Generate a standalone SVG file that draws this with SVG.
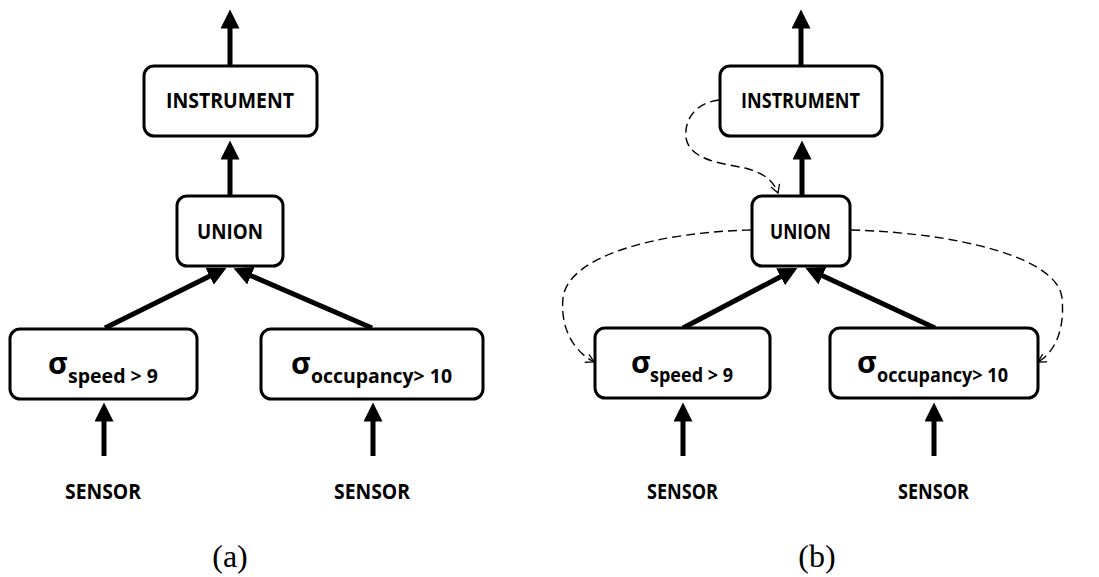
<svg xmlns="http://www.w3.org/2000/svg" width="1099" height="577" viewBox="0 0 1099 577">
<style>
.box{fill:#fff;stroke:#000;stroke-width:3}
.lbl{font-family:"Open Sans","Liberation Sans",sans-serif;font-weight:bold;font-size:22px;fill:#000}
.sig{font-family:"Open Sans","Liberation Sans",sans-serif;font-weight:bold;font-size:30px;fill:#000}
.sub{font-family:"Open Sans","Liberation Sans",sans-serif;font-weight:bold;font-size:20px;fill:#000}
.cap{font-family:"Liberation Serif","Times New Roman",serif;font-size:32px;fill:#000;text-anchor:middle}
.thick{stroke:#000;stroke-width:5;fill:none;marker-end:url(#head)}
.dash{stroke:#000;stroke-width:1.4;fill:none;stroke-dasharray:9,5;marker-end:url(#open)}
</style>
<defs>
<marker id="head" markerUnits="userSpaceOnUse" markerWidth="20" markerHeight="20" refX="0.5" refY="9.5" orient="auto">
<path d="M0,0 L19,9.5 L0,19 z" fill="#000"/>
</marker>
<marker id="open" markerUnits="userSpaceOnUse" markerWidth="12" markerHeight="12" refX="9" refY="5" orient="auto">
<path d="M1,0.5 L9,5 L1,9.5" fill="none" stroke="#000" stroke-width="1.3"/>
</marker>
</defs>

<g id="connectors">
<line class="thick" x1="230" y1="66" x2="230" y2="28"/>
<line class="thick" x1="230" y1="196" x2="230" y2="159"/>
<line class="thick" x1="105" y1="328" x2="210" y2="276"/>
<line class="thick" x1="372" y1="328" x2="250.5" y2="275.5"/>
<line class="thick" x1="104" y1="456" x2="104" y2="421"/>
<line class="thick" x1="373" y1="456" x2="373" y2="421"/>

<line class="thick" x1="801" y1="66" x2="801" y2="28"/>
<line class="thick" x1="802" y1="196" x2="802" y2="159"/>
<line class="thick" x1="683" y1="328" x2="781" y2="276.5"/>
<line class="thick" x1="935" y1="328" x2="822" y2="275.5"/>
<line class="thick" x1="683" y1="456" x2="683" y2="421"/>
<line class="thick" x1="934" y1="456" x2="934" y2="421"/>

<path class="dash" d="M719,100 C695,103 684,120 686,138 C690,160 720,163 745,168 C765,173 774,182 778,193"/>
<path class="dash" d="M751,230 C660,232 568,255 563,298 C560,330 575,352 594,362"/>
<path class="dash" d="M851,230 C960,233 1058,258 1062,298 C1065,330 1055,352 1038,362"/>
</g>

<g id="a-instrument">
<rect class="box" x="144" y="66" width="173" height="70" rx="10"/>
<text class="lbl" x="166" y="108" textLength="128" lengthAdjust="spacingAndGlyphs">INSTRUMENT</text>
</g>
<g id="a-union">
<rect class="box" x="177" y="196" width="106" height="70" rx="10"/>
<text class="lbl" x="197" y="239" textLength="66" lengthAdjust="spacingAndGlyphs">UNION</text>
</g>
<g id="a-sel-speed">
<rect class="box" x="10" y="329" width="187" height="70" rx="10"/>
<text class="sig" x="48" y="374">σ</text>
<text class="sub" x="68" y="383" textLength="90" lengthAdjust="spacingAndGlyphs">speed &gt; 9</text>
</g>
<g id="a-sel-occ">
<rect class="box" x="261" y="329" width="222" height="70" rx="10"/>
<text class="sig" x="291" y="374">σ</text>
<text class="sub" x="311" y="383" textLength="141" lengthAdjust="spacingAndGlyphs">occupancy&gt; 10</text>
</g>
<g id="a-sensor1">
<text class="lbl" x="65" y="499" textLength="76" lengthAdjust="spacingAndGlyphs">SENSOR</text>
</g>
<g id="a-sensor2">
<text class="lbl" x="334" y="499" textLength="76" lengthAdjust="spacingAndGlyphs">SENSOR</text>
</g>
<text class="cap" x="230" y="567">(a)</text>

<g id="b-instrument">
<rect class="box" x="720" y="66" width="162" height="70" rx="10"/>
<text class="lbl" x="741" y="108" textLength="119" lengthAdjust="spacingAndGlyphs">INSTRUMENT</text>
</g>
<g id="b-union">
<rect class="box" x="752" y="196" width="98" height="70" rx="10"/>
<text class="lbl" x="770" y="239" textLength="61" lengthAdjust="spacingAndGlyphs">UNION</text>
</g>
<g id="b-sel-speed">
<rect class="box" x="595" y="328" width="175" height="70" rx="10"/>
<text class="sig" x="631" y="373">σ</text>
<text class="sub" x="650" y="382" textLength="83" lengthAdjust="spacingAndGlyphs">speed &gt; 9</text>
</g>
<g id="b-sel-occ">
<rect class="box" x="830" y="328" width="208" height="70" rx="10"/>
<text class="sig" x="857" y="373">σ</text>
<text class="sub" x="877" y="382" textLength="131" lengthAdjust="spacingAndGlyphs">occupancy&gt; 10</text>
</g>
<g id="b-sensor1">
<text class="lbl" x="647" y="499" textLength="71" lengthAdjust="spacingAndGlyphs">SENSOR</text>
</g>
<g id="b-sensor2">
<text class="lbl" x="898" y="499" textLength="71" lengthAdjust="spacingAndGlyphs">SENSOR</text>
</g>
<text class="cap" x="817" y="567">(b)</text>
</svg>
